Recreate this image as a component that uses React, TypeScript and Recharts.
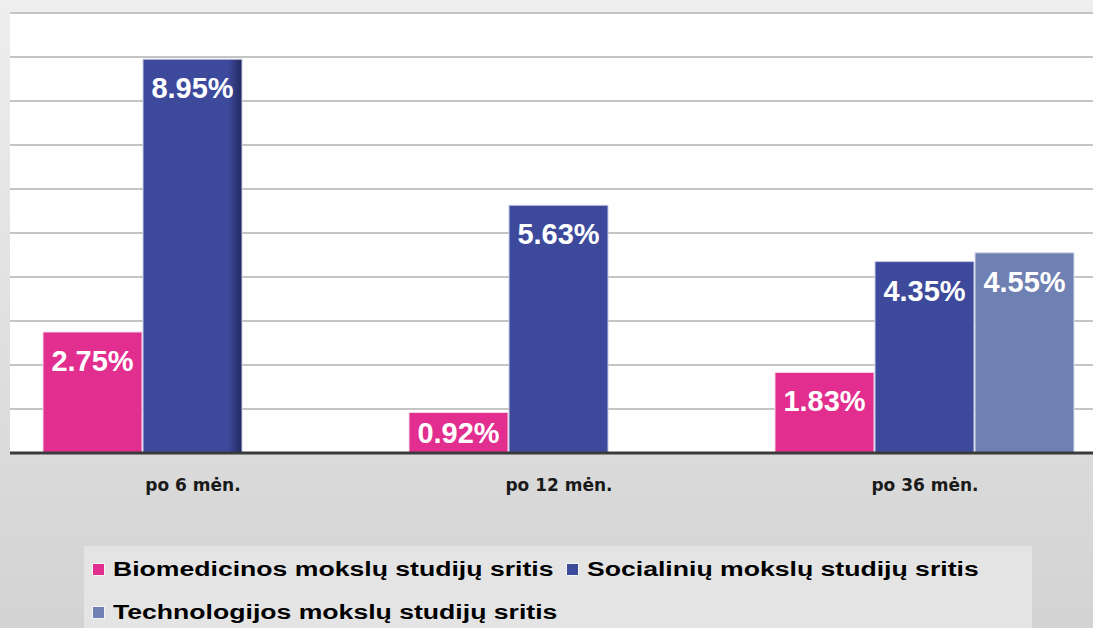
import { BarChart, Bar, XAxis, YAxis, CartesianGrid, Legend, LabelList, Cell } from 'recharts';

const periods = ['po 6 mėn.', 'po 12 mėn.', 'po 36 mėn.'];
const biomed = [2.75, 0.92, 1.83];
const social = [8.95, 5.63, 4.35];
const tech = [null, null, 4.55];
const yTicks = [0, 1, 2, 3, 4, 5, 6, 7, 8, 9];

const seriesNames = {
  biomed: 'Biomedicinos mokslų studijų sritis',
  social: 'Socialinių mokslų studijų sritis',
  tech: 'Technologijos mokslų studijų sritis',
};

const data = periods.map((p, i) => ({
  period: p,
  biomed: biomed[i],
  social: social[i],
  tech: tech[i],
}));

const valueLabel = (props: any) => {
  const { x, y, width, height, value } = props;
  if (value == null) return null;
  const cy = y + Math.min(29, height / 2);
  return (
    <text
      x={x + width / 2}
      y={cy}
      fill="#ffffff"
      textAnchor="middle"
      dominantBaseline="central"
      fontFamily="'Liberation Sans', Arial, sans-serif"
      fontWeight="bold"
      fontSize={29}
    >
      {value.toFixed(2)}%
    </text>
  );
};

const periodTick = (props: any) => {
  const { x, y, payload } = props;
  return (
    <text
      x={x}
      y={y + 32}
      textAnchor="middle"
      dominantBaseline="central"
      fill="#1a1a1a"
      fontFamily="'DejaVu Sans', Verdana, sans-serif"
      fontWeight="bold"
      fontSize={17}
    >
      {payload.value}
    </text>
  );
};

const renderLegend = (props: any) => {
  const { payload } = props;
  const widths = [474, 460, 474];
  return (
    <div style={{ display: 'flex', flexWrap: 'wrap', paddingLeft: 8, paddingTop: 2 }}>
      {payload.map((entry: any, i: number) => (
        <div
          key={entry.value}
          style={{ width: widths[i], height: 43, display: 'flex', alignItems: 'center' }}
        >
          <span
            style={{
              display: 'inline-block',
              width: 11,
              height: 11,
              background: entry.color,
              border: '1px solid #f4f4f4',
              marginRight: 8,
            }}
          />
          <span
            style={{
              display: 'inline-block',
              fontFamily: "'Liberation Sans', Arial, sans-serif",
              fontWeight: 'bold',
              fontSize: 20,
              color: '#000',
              whiteSpace: 'nowrap',
              transform: 'scaleX(1.33)',
              transformOrigin: 'left center',
            }}
          >
            {entry.value}
          </span>
        </div>
      ))}
    </div>
  );
};

export default function App() {
  return (
    <div
      style={{
        position: 'absolute',
        left: 0,
        top: 0,
        width: 1093,
        height: 628,
        overflow: 'hidden',
        background: 'linear-gradient(#eeeeee, #d3d3d3)',
      }}
    >
      <BarChart
        width={1110}
        height={628}
        data={data}
        margin={{ top: 13, right: 2, left: 10, bottom: 135 }}
        barCategoryGap={33}
        barGap={1}
      >
        <defs>
          <linearGradient id="socialShade" x1="0" y1="0" x2="1" y2="0">
            <stop offset="0%" stopColor="#3d4a9c" />
            <stop offset="86%" stopColor="#3d4a9c" />
            <stop offset="100%" stopColor="#222a5e" />
          </linearGradient>
        </defs>
        <CartesianGrid
          vertical={false}
          fill="#ffffff"
          stroke="#c4c4c4"
          strokeWidth={2}
        />
        <YAxis hide domain={[0, 10]} ticks={yTicks} />
        <XAxis
          dataKey="period"
          height={40}
          tickSize={0}
          tickMargin={0}
          tickLine={false}
          axisLine={{ stroke: '#3a3a3a', strokeWidth: 3 }}
          tick={periodTick}
          interval={0}
        />
        <Legend
          layout="horizontal"
          verticalAlign="middle"
          align="center"
          content={renderLegend}
          wrapperStyle={{ left: 84, top: 546, width: 948, height: 90, background: '#e4e4e4' }}
        />
        <Bar
          dataKey="biomed"
          name={seriesNames.biomed}
          fill="#e22e8f"
          stroke="#f3d6e6"
          strokeWidth={1}
          isAnimationActive={false}
        >
          <LabelList dataKey="biomed" content={valueLabel} />
        </Bar>
        <Bar
          dataKey="social"
          name={seriesNames.social}
          fill="#3d4a9c"
          stroke="#c9cce3"
          strokeWidth={1}
          isAnimationActive={false}
        >
          {data.map((d, i) => (
            <Cell key={d.period} fill={i === 0 ? 'url(#socialShade)' : '#3d4a9c'} />
          ))}
          <LabelList dataKey="social" content={valueLabel} />
        </Bar>
        <Bar
          dataKey="tech"
          name={seriesNames.tech}
          fill="#6f80b2"
          stroke="#d6dbea"
          strokeWidth={1}
          isAnimationActive={false}
        >
          <LabelList dataKey="tech" content={valueLabel} />
        </Bar>
      </BarChart>
    </div>
  );
}
